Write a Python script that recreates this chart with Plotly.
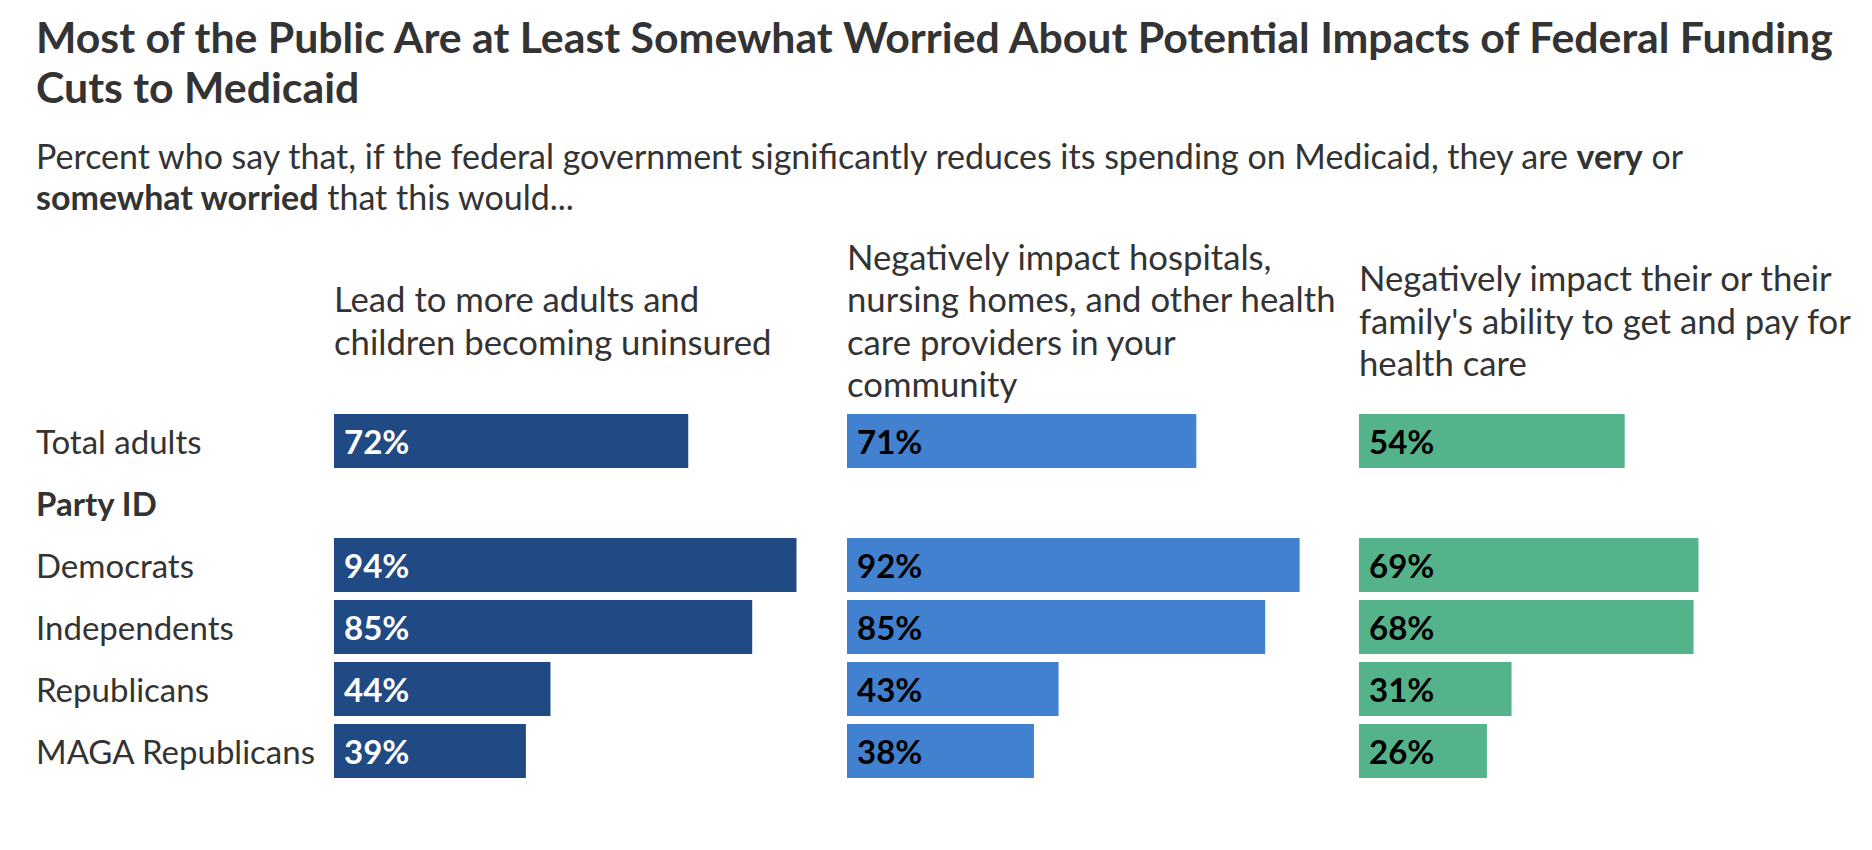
import plotly.graph_objects as go

W, H = 1872, 850

categories = ["Total adults", "Party ID", "Democrats", "Independents", "Republicans", "MAGA Republicans"]
bold_rows = ["Party ID"]

col_titles = [
    ["Lead to more adults and", "children becoming uninsured"],
    ["Negatively impact hospitals,", "nursing homes, and other health", "care providers in your", "community"],
    ["Negatively impact their or their", "family's ability to get and pay for", "health care"],
]

uninsured = [72, None, 94, 85, 44, 39]
providers = [71, None, 92, 85, 43, 38]
own_care = [54, None, 69, 68, 31, 26]

series = [uninsured, providers, own_care]
colors = ["#1f4a83", "#4181d0", "#55b38b"]
label_colors = ["#ffffff", "#000000", "#000000"]

title_lines = [
    "<b>Most of the Public Are at Least Somewhat Worried About Potential Impacts of Federal Funding</b>",
    "<b>Cuts to Medicaid</b>",
]
subtitle_lines = [
    "Percent who say that, if the federal government significantly reduces its spending on Medicaid, they are <b>very</b> or",
    "<b>somewhat worried</b> that this would...",
]

FONT = "Lato"
TXT = "#333333"
OFF = 8  # page body margin

def px_x(p):
    return (p - OFF) / W

def px_y(p):
    return 1 - (p - OFF) / H

col_left_px = [334, 847, 1359]
col_width_px = 492
TEXT_PAD = 2

fig = go.Figure()

annotations = []
for i, vals in enumerate(series):
    xa = "x" if i == 0 else f"x{i+1}"
    fig.add_trace(go.Bar(
        x=vals, y=categories, orientation="h",
        marker=dict(color=colors[i], line=dict(width=0)),
        xaxis=xa, yaxis="y", hoverinfo="skip", showlegend=False,
    ))
    for cat, v in zip(categories, vals):
        if v is None:
            continue
        annotations.append(dict(
            x=0, y=cat, xref=xa, yref="y", xanchor="left", yanchor="middle",
            xshift=8, text=f"<b>{v}%</b>", showarrow=False,
            font=dict(family=FONT, size=33, color=label_colors[i]),
        ))
    lines = col_titles[i]
    n = len(lines)
    for k, line in enumerate(lines):
        yc = 320 + (k - (n - 1) / 2) * 42.5
        annotations.append(dict(
            x=px_x(col_left_px[i] - TEXT_PAD), y=px_y(yc), xref="paper", yref="paper",
            xanchor="left", yanchor="middle", align="left", text=line,
            showarrow=False, font=dict(family=FONT, size=34.7, color=TXT),
        ))

for cat in categories:
    t = f"<b>{cat}</b>" if cat in bold_rows else cat
    annotations.append(dict(
        x=px_x(36 - TEXT_PAD), y=cat, xref="paper", yref="y", xanchor="left", yanchor="middle",
        text=t, showarrow=False, font=dict(family=FONT, size=33, color=TXT),
    ))

for k, line in enumerate(title_lines):
    annotations.append(dict(
        x=px_x(36 - TEXT_PAD), y=px_y(36 + 50 * k), xref="paper", yref="paper",
        xanchor="left", yanchor="middle", align="left", text=line, showarrow=False,
        font=dict(family=FONT, size=42.8, color=TXT),
    ))
for k, line in enumerate(subtitle_lines):
    annotations.append(dict(
        x=px_x(36 - TEXT_PAD), y=px_y(155 + 41 * k), xref="paper", yref="paper",
        xanchor="left", yanchor="middle", align="left", text=line, showarrow=False,
        font=dict(family=FONT, size=34, color=TXT),
    ))

layout = dict(
    width=W, height=H,
    margin=dict(l=0, r=0, t=0, b=0),
    paper_bgcolor="white", plot_bgcolor="white",
    bargap=8 / 62,
    annotations=annotations,
    yaxis=dict(domain=[px_y(782), px_y(410)], type="category", categoryorder="array",
               categoryarray=categories, autorange="reversed", showticklabels=False,
               showgrid=False, zeroline=False, showline=False, ticks=""),
)
for i in range(3):
    key = "xaxis" if i == 0 else f"xaxis{i+1}"
    layout[key] = dict(
        domain=[px_x(col_left_px[i]), px_x(col_left_px[i] + col_width_px)],
        range=[0, 100], anchor="y", showticklabels=False, showgrid=False,
        zeroline=False, showline=False, ticks="", fixedrange=True,
    )

fig.update_layout(**layout)
fig.write_html("out.html")
